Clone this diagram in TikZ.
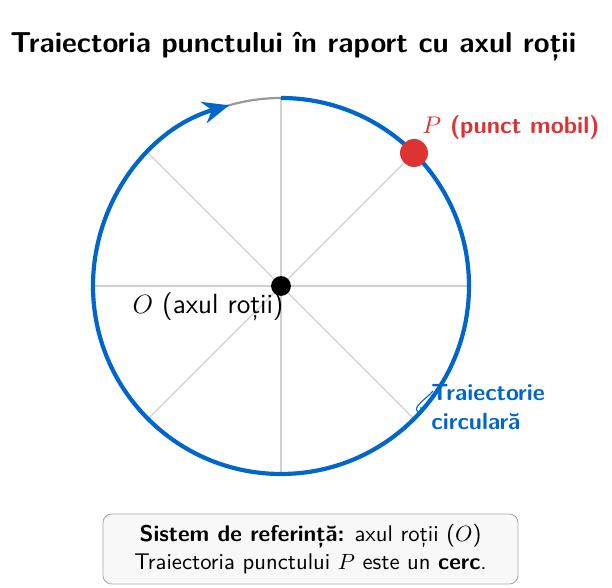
\documentclass[tikz,border=0pt]{standalone}
\usetikzlibrary{arrows.meta,calc}
\renewcommand\familydefault{\sfdefault}
\definecolor{trajblue}{RGB}{0,102,204}
\definecolor{pred}{RGB}{221,51,51}
\definecolor{spoke}{RGB}{208,208,208}
\definecolor{boxfill}{RGB}{248,248,248}
\definecolor{boxdraw}{RGB}{170,170,170}
\newcommand\basefont{\fontsize{10.6pt}{13pt}\selectfont}
\tikzset{
  spokeline/.style={draw=spoke, line width=0.5pt},
  traj/.style={draw=trajblue, line width=1.9pt},
  txt/.style={inner sep=0pt, font=\sffamily\basefont},
}
\begin{document}
\begin{tikzpicture}[x=0.015957cm, y=0.015957cm]
\useasboundingbox (0,0) rectangle (612,588);
\coordinate (O) at (281,302);
% title
\node[txt, anchor=west, font=\sffamily\bfseries\fontsize{13.1pt}{16pt}\selectfont] (title) at (10,541) {Traiectoria punctului în raport cu axul roții};
% spokes
\foreach \a in {0,45,...,315} {
  \coordinate (s\a) at ($(O)+(\a:188)$);
  \draw[spokeline] (O) -- (s\a);
}
% gray arc
\draw[draw=gray!80, line width=1pt] (O) ++(90:188) arc[start angle=90, end angle=110, radius=188];
% blue trajectory with arrow
\draw[traj, -{Stealth[length=12pt, width=10pt]}] (O) ++(90:188) arc[start angle=90, end angle=-254, radius=188];
% center
\node[circle, fill=black, inner sep=0pt, minimum size=9pt] (Odot) at (O) {};
\node[txt, anchor=east, font=\sffamily\fontsize{12.6pt}{15pt}\selectfont] (Olab) at (284,281) {$O$ (axul roții)};
% point P
\node[circle, fill=pred, inner sep=0pt, minimum size=12.7pt] (P) at (414,435) {};
\node[txt, anchor=west, text=pred, font=\sffamily\bfseries\fontsize{10.8pt}{13pt}\selectfont] (Plab) at (422,460) {$P$ (punct mobil)};
% trajectory label
\node[txt, anchor=north west, text=trajblue, font=\sffamily\bfseries\basefont, align=left] (tlab) at (431,204) {Traiectorie\\circulară};
\coordinate (c1) at (433,197);
\coordinate (c2) at (420,180);
\draw[trajblue, line width=0.5pt] (c1) .. controls (425,188) and (412,181) .. (418,176) .. controls (421,174) and (424,182) .. (c2);
% bottom box
\node[draw=boxdraw, fill=boxfill, rounded corners=4pt, minimum width=188.5pt, minimum height=31.8pt, align=center, font=\sffamily\fontsize{10.3pt}{12.8pt}\selectfont] (box) at (310.5,39) {\textbf{Sistem de referință:} axul roții ($O$)\\Traiectoria punctului $P$ este un \textbf{cerc}.};
\end{tikzpicture}
\end{document}
